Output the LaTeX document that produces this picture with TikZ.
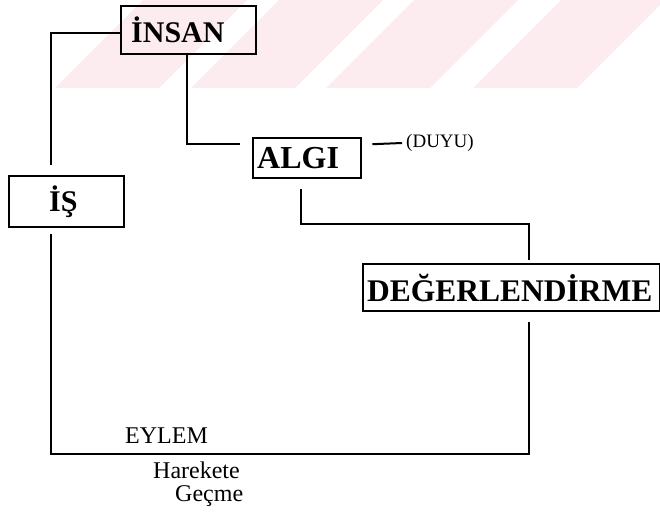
\documentclass[tikz,border=0pt]{standalone}
\usepackage{fontspec}
\setmainfont{Liberation Serif}
\definecolor{wmpink}{RGB}{252,235,239}
\begin{document}
\begin{tikzpicture}[x=1pt,y=-1pt,
  box/.style={draw, line width=2.4pt, rectangle, align=left, inner ysep=0pt, font=\bfseries},
  conn/.style={draw, line width=2pt},
  lbl/.style={inner sep=0pt, anchor=base west, font=\fontsize{24}{29}\selectfont}]
\useasboundingbox (0,0) rectangle (660,515);
% watermark stripes
\foreach \a in {55,191,326,473}{
  \fill[wmpink] (\a,88) -- (\a+104,88) -- (\a+192,0) -- (\a+88,0) -- cycle;
}
% boxes
\node[box, anchor=north west, minimum width=135pt, minimum height=48pt, text width=115pt, inner xsep=10pt,
  font=\bfseries\fontsize{30}{36}\selectfont] (insan) at (120,5) {İNSAN};
\node[box, anchor=north west, minimum width=115pt, minimum height=51pt, text width=35pt, inner xsep=40pt,
  font=\bfseries\fontsize{30}{36}\selectfont] (is) at (8,175) {İŞ};
\node[box, anchor=north west, minimum width=108pt, minimum height=40pt, text width=100pt, inner xsep=4pt,
  font=\bfseries\fontsize{32}{38}\selectfont] (algi) at (252,137) {ALGI};
\node[box, anchor=north west, minimum width=297pt, minimum height=47pt, text width=289pt, inner xsep=4pt,
  font=\bfseries\fontsize{31.5}{38}\selectfont] (deg) at (362,263) {DEĞERLENDİRME};
\node[inner xsep=4pt, inner ysep=0pt, anchor=west, font=\fontsize{19}{23}\selectfont] (duyu) at (402,143) {(DUYU)};
% labels
\node[lbl] (eylem) at (125,443) {EYLEM};
\node[lbl] (harekete) at (153,478) {Harekete};
\node[lbl] (gecme) at (175,501) {Geçme};
% connectors
\draw[conn] ([yshift=-3pt]insan.west) -| ([xshift=-15.5pt,yshift=10pt]is.north);
\draw[conn] ([xshift=-1.5pt]insan.south) |- ([xshift=-12pt,yshift=14pt]algi.west);
\draw[conn] ([xshift=10pt,yshift=14pt]algi.east) -- (duyu.west);
\draw[conn] ([xshift=-6pt,yshift=-10pt]algi.south) -- ++(0,35) -| ([xshift=17.5pt,yshift=3pt]deg.north);
\draw[conn] ([xshift=17.5pt,yshift=-10pt]deg.south) -- ++(0,132) -| ([xshift=-15.5pt,yshift=-6pt]is.south);
\end{tikzpicture}
\end{document}
